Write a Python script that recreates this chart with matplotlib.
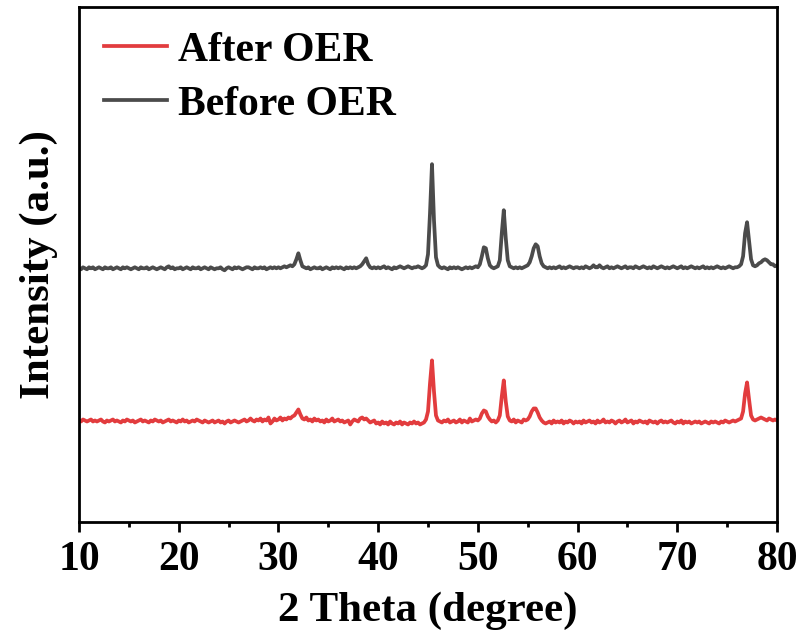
"""XRD patterns before / after OER, stacked with a vertical offset."""

import matplotlib
matplotlib.use("Agg")
import matplotlib.pyplot as plt
import numpy as np
from matplotlib.ticker import MultipleLocator

# 2-theta sampling grid (degree), 0.2 deg steps from 10 to 80
two_theta = np.round(np.arange(10.0, 80.001, 0.2), 1)

BASE = 100     # counts level of the flat background (a.u.)
OFFSET = 153   # vertical shift applied to the "Before OER" trace

# intensity above background, in 10-degree blocks
before_10 = [0, -1, 1, 0, -1, 1, 0, 1, -1, 0,
             1, 0, -1, 1, 0, 0, 1, -1, 0, 1,
             0, -1, 1, 0, 1, 0, -1, 0, 1, 0,
             -1, 1, 0, 0, 1, -1, 0, 1, 0, -1,
             0, 1, 0, -1, 1, 2, 0, 1, -1, 0]
before_20 = [0, 1, -1, 0, 1, 0, -1, 1, 0, 0,
             1, -1, 0, 1, 0, -1, 1, 0, -1, 0,
             0, 1, -1, -2, 0, 1, 0, -1, 1, 0,
             1, 0, -1, 0, 1, 1, 0, -1, 1, 0,
             0, 1, 0, 1, -1, 0, 1, 0, 1, 0]
before_30 = [1, 0, 1, 2, 1, 2, 3, 2, 4, 9,
             15, 8, 2, 1, 0, 1, -1, 0, 1, 0,
             0, 1, -1, 0, 1, 0, -1, 1, 0, 1,
             0, 1, 0, -1, 1, 0, 1, 0, 1, 0,
             1, 2, 4, 7, 10, 4, 1, 0, 1, 0]
before_40 = [1, 0, 1, 2, 0, 1, 0, -1, 1, 0,
             1, 2, 1, 0, 1, 2, 1, 0, 1, 1,
             2, 1, 0, 1, 3, 14, 55, 104, 48, 11,
             3, 1, 0, 1, 0, -1, 1, 0, 1, 0,
             1, 0, -1, 0, 1, 0, 1, 0, 1, 2]
before_50 = [1, 4, 12, 21, 20, 10, 3, 1, 0, 1,
             2, 8, 35, 58, 30, 8, 2, 1, 0, 1,
             0, 1, 0, 1, 2, 3, 6, 12, 20, 24,
             22, 12, 5, 2, 1, 0, 1, 0, 1, 0,
             1, 2, 0, 1, 0, 1, 2, 1, 0, 1]
before_60 = [1, 0, 1, 0, 2, 1, 0, 1, 3, 1,
             1, 3, 1, 0, 1, 2, 0, 1, 0, 1,
             2, 1, 0, 1, 2, 0, 1, 1, 0, 2,
             1, 0, 1, 2, 1, 0, 1, 0, 2, 1,
             0, 1, 2, 1, 0, 1, 0, 1, 2, 1]
before_70 = [0, 1, 2, 0, 1, 0, 1, 2, 1, 0,
             1, 0, 1, 2, 0, 1, 0, 1, 0, 1,
             2, 1, 0, 1, 0, 1, 2, 1, 0, 1,
             1, 2, 4, 12, 35, 46, 28, 9, 3, 2,
             3, 5, 6, 8, 9, 8, 6, 4, 4, 2]
before_80 = [3]

after_10 = [1, 0, 2, 1, 0, 1, 2, 0, 1, 0,
            1, 2, 0, -1, 1, 0, 1, 2, 0, 1,
            0, -1, 1, 0, 2, 1, 0, 1, -1, 0,
            1, 2, 0, 1, 0, -1, 1, 0, 2, 1,
            0, 1, -1, 0, 1, 2, 0, 1, 0, -1]
after_20 = [1, 0, 2, 0, 1, -1, 0, 1, 0, 2,
            1, 0, -1, 1, 0, -1, 0, 1, -1, 0,
            1, -1, 0, -2, 0, 1, -1, 0, 1, 0,
            -1, 0, 1, 2, 0, 1, 3, 1, 0, 2,
            1, 3, 0, 2, 1, 4, -2, 0, 3, 1]
after_30 = [2, 4, 1, 3, 2, 4, 3, 5, 6, 9,
            12, 7, 3, 2, 4, 1, 2, 0, 3, 1,
            2, 0, 1, -1, 2, 0, 1, 3, 0, 1,
            2, 0, 1, -1, 0, 1, -3, 0, 2, 1,
            0, 3, 4, 2, 3, 1, -1, 0, 1, -2]
after_40 = [-1, -3, 0, -2, -1, -3, 0, -2, -3, -1,
            -2, 0, -3, -1, -2, -3, -1, -2, 0, -2,
            -1, -3, -2, -1, 2, 10, 38, 61, 30, 6,
            1, 0, -1, 1, 0, 2, -1, 0, 1, -1,
            0, 2, -1, 1, 0, -1, 3, 0, 1, 2]
after_50 = [1, 3, 8, 11, 10, 5, 2, 0, 1, -1,
            1, 6, 25, 41, 20, 5, 1, 0, 2, -1,
            1, 0, -1, 2, 1, 2, 5, 10, 13, 13,
            9, 4, 1, -1, -2, -1, 0, -2, 1, -1,
            0, -1, 1, -2, 0, -1, 1, 0, -2, 0]
after_60 = [-1, 0, -2, 1, -1, 0, 1, -1, 0, -2,
            1, -1, 0, 2, -1, 0, -1, 1, 0, -2,
            0, 1, -1, 0, 2, -1, 0, 1, -2, 0,
            -1, 1, 0, -1, 0, -2, 1, 0, -1, 0,
            -2, 0, 1, -1, 0, -1, 0, 1, -1, -2]
after_70 = [0, -1, 1, -2, 0, -1, 0, -2, -1, 0,
            -1, 0, -2, -1, 0, -1, -2, 0, -1, 0,
            -1, -2, 0, -1, 1, 0, -1, 0, 1, 0,
            1, 2, 3, 10, 28, 39, 22, 6, 2, 1,
            2, 3, 4, 3, 2, 1, 3, 2, 1, 2]
after_80 = [1]

before = BASE + np.array(before_10 + before_20 + before_30 + before_40
                         + before_50 + before_60 + before_70 + before_80, float)
after = BASE + np.array(after_10 + after_20 + after_30 + after_40
                        + after_50 + after_60 + after_70 + after_80, float)
assert len(before) == len(after) == len(two_theta)

RED = "#E23C3E"
GREY = "#4B4B4B"

plt.rcParams["font.family"] = ["Liberation Serif", "DejaVu Serif"]
plt.rcParams["font.weight"] = "bold"

fig = plt.figure(figsize=(8.03, 6.39), dpi=100)
ax = fig.add_axes((0.0984, 0.1837, 0.8692, 0.8054))

ax.plot(two_theta, after, color=RED, lw=2.7, label="After OER")
ax.plot(two_theta, before + OFFSET, color=GREY, lw=2.7, label="Before OER")

ax.set_xlim(10, 80)
ax.set_ylim(0, 514)
ax.xaxis.set_major_locator(MultipleLocator(10))
ax.xaxis.set_minor_locator(MultipleLocator(5))
ax.set_yticks([])
ax.tick_params(axis="x", which="major", direction="out", length=7, width=2,
               labelsize=30, pad=7)
ax.tick_params(axis="x", which="minor", direction="out", length=3.8, width=2)
for s in ax.spines.values():
    s.set_linewidth(2)

ax.set_xlabel("2 Theta (degree)", fontsize=31, fontweight="bold", labelpad=9)
ax.set_ylabel("Intensity (a.u.)", fontsize=31, fontweight="bold", labelpad=15)

ax.legend(loc="upper left", bbox_to_anchor=(0.036, 0.952), frameon=False,
          fontsize=30, handlelength=1.5, handletextpad=0.27, labelspacing=0.38,
          borderaxespad=0, borderpad=0)

fig.savefig("out.png", dpi=100)
